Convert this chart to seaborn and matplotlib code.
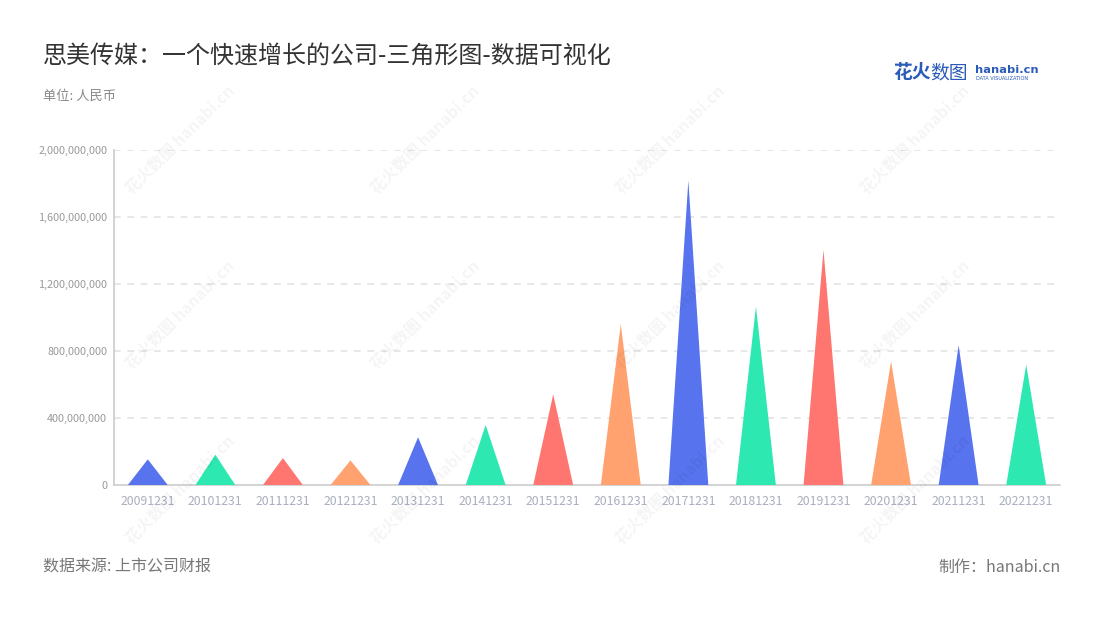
import numpy as np
import pandas as pd
import matplotlib
matplotlib.use('Agg')
import matplotlib.pyplot as plt
import seaborn as sns
from matplotlib.patches import Polygon

# data (RMB)
dates = ['20091231', '20101231', '20111231', '20121231', '20131231', '20141231', '20151231',
         '20161231', '20171231', '20181231', '20191231', '20201231', '20211231', '20221231']
values = [153e6, 181e6, 161e6, 147e6, 285e6, 358e6, 541e6,
          960e6, 1817e6, 1065e6, 1403e6, 738e6, 834e6, 718e6]
palette = ['#5773EE', '#2DE8B0', '#FF7670', '#FFA270']

df = pd.DataFrame({'date': dates, 'value': values})

sns.set_style('white')
plt.rcParams['font.family'] = ['Noto Sans CJK SC', 'DejaVu Sans']

fig = plt.figure(figsize=(11, 6.2), dpi=100)
ax = fig.add_axes([114 / 1100, 1 - 485 / 620, 946 / 1100, 335 / 620])

colors = [palette[i % 4] for i in range(len(dates))]
sns.barplot(data=df, x='date', y='value', hue='date', palette=colors, legend=False,
            width=0.59, ax=ax)

# turn each bar into a triangle
for patch, c in zip(list(ax.patches), colors):
    x0 = patch.get_x()
    w = patch.get_width()
    h = patch.get_height()
    tri = Polygon([[x0, 0], [x0 + w / 2, h], [x0 + w, 0]], closed=True,
                  facecolor=c, edgecolor='none', zorder=3)
    patch.remove()
    ax.add_patch(tri)

ax.set_xlim(-0.5, len(dates) - 0.5)
ax.set_ylim(0, 2e9)
yt = np.arange(0, 2.0e9 + 1, 4e8)
ax.set_yticks(yt)
ax.set_yticklabels(['0' if v == 0 else f'{int(v):,}' for v in yt])
ax.set_xlabel('')
ax.set_ylabel('')

for v in yt[1:]:
    ax.axhline(v, color='#e3e3e3', lw=1.2, ls=(0, (4, 4)), zorder=1)

for s in ['top', 'right']:
    ax.spines[s].set_visible(False)
for s in ['left', 'bottom']:
    ax.spines[s].set_color('#cccccc')
    ax.spines[s].set_linewidth(1.2)

ax.tick_params(axis='x', colors='#cccccc', length=4, width=1, labelcolor='#a9aebd',
               labelsize=8.8, pad=3)
ax.tick_params(axis='y', colors='#cccccc', length=4, width=1, labelcolor='#999999',
               labelsize=7.8, pad=1)

# watermarks
for cx in [180, 425, 670, 915]:
    for cy in [140, 315, 490]:
        fig.text(cx / 1100, 1 - cy / 620, '花火数图 hanabi.cn', rotation=45,
                 ha='center', va='center', fontsize=11.5, color='#000000', alpha=0.045,
                 fontweight='bold', zorder=10)

# titles and notes
fig.text(43 / 1100, 1 - 56 / 620, '思美传媒：一个快速增长的公司-三角形图-数据可视化',
         fontsize=17.3, color='#333333', ha='left', va='center')
fig.text(43 / 1100, 1 - 96 / 620, '单位: 人民币', fontsize=9.5, color='#888888',
         ha='left', va='center')
fig.text(43 / 1100, 1 - 567 / 620, '数据来源: 上市公司财报', fontsize=11.5, color='#777777',
         ha='left', va='center')
fig.text(1061 / 1100, 1 - 567 / 620, '制作：hanabi.cn', fontsize=11.5, color='#777777',
         ha='right', va='center')

# logo
fig.text(893 / 1100, 1 - 73 / 620, '花火', fontsize=13.5, color='#2B5BB8', fontweight='bold',
         ha='left', va='center')
fig.text(930 / 1100, 1 - 73 / 620, '数图', fontsize=13.5, color='#2B5BB8',
         ha='left', va='center')
fig.text(975 / 1100, 1 - 70 / 620, 'hanabi.cn', fontsize=8.2, color='#2B5BB8',
         fontweight='bold', ha='left', va='center', family='DejaVu Sans')
fig.text(976 / 1100, 1 - 79 / 620, 'DATA VISUALIZATION', fontsize=3.6, color='#2B5BB8',
         ha='left', va='center', family='DejaVu Sans')

fig.savefig('out.png', dpi=100)
